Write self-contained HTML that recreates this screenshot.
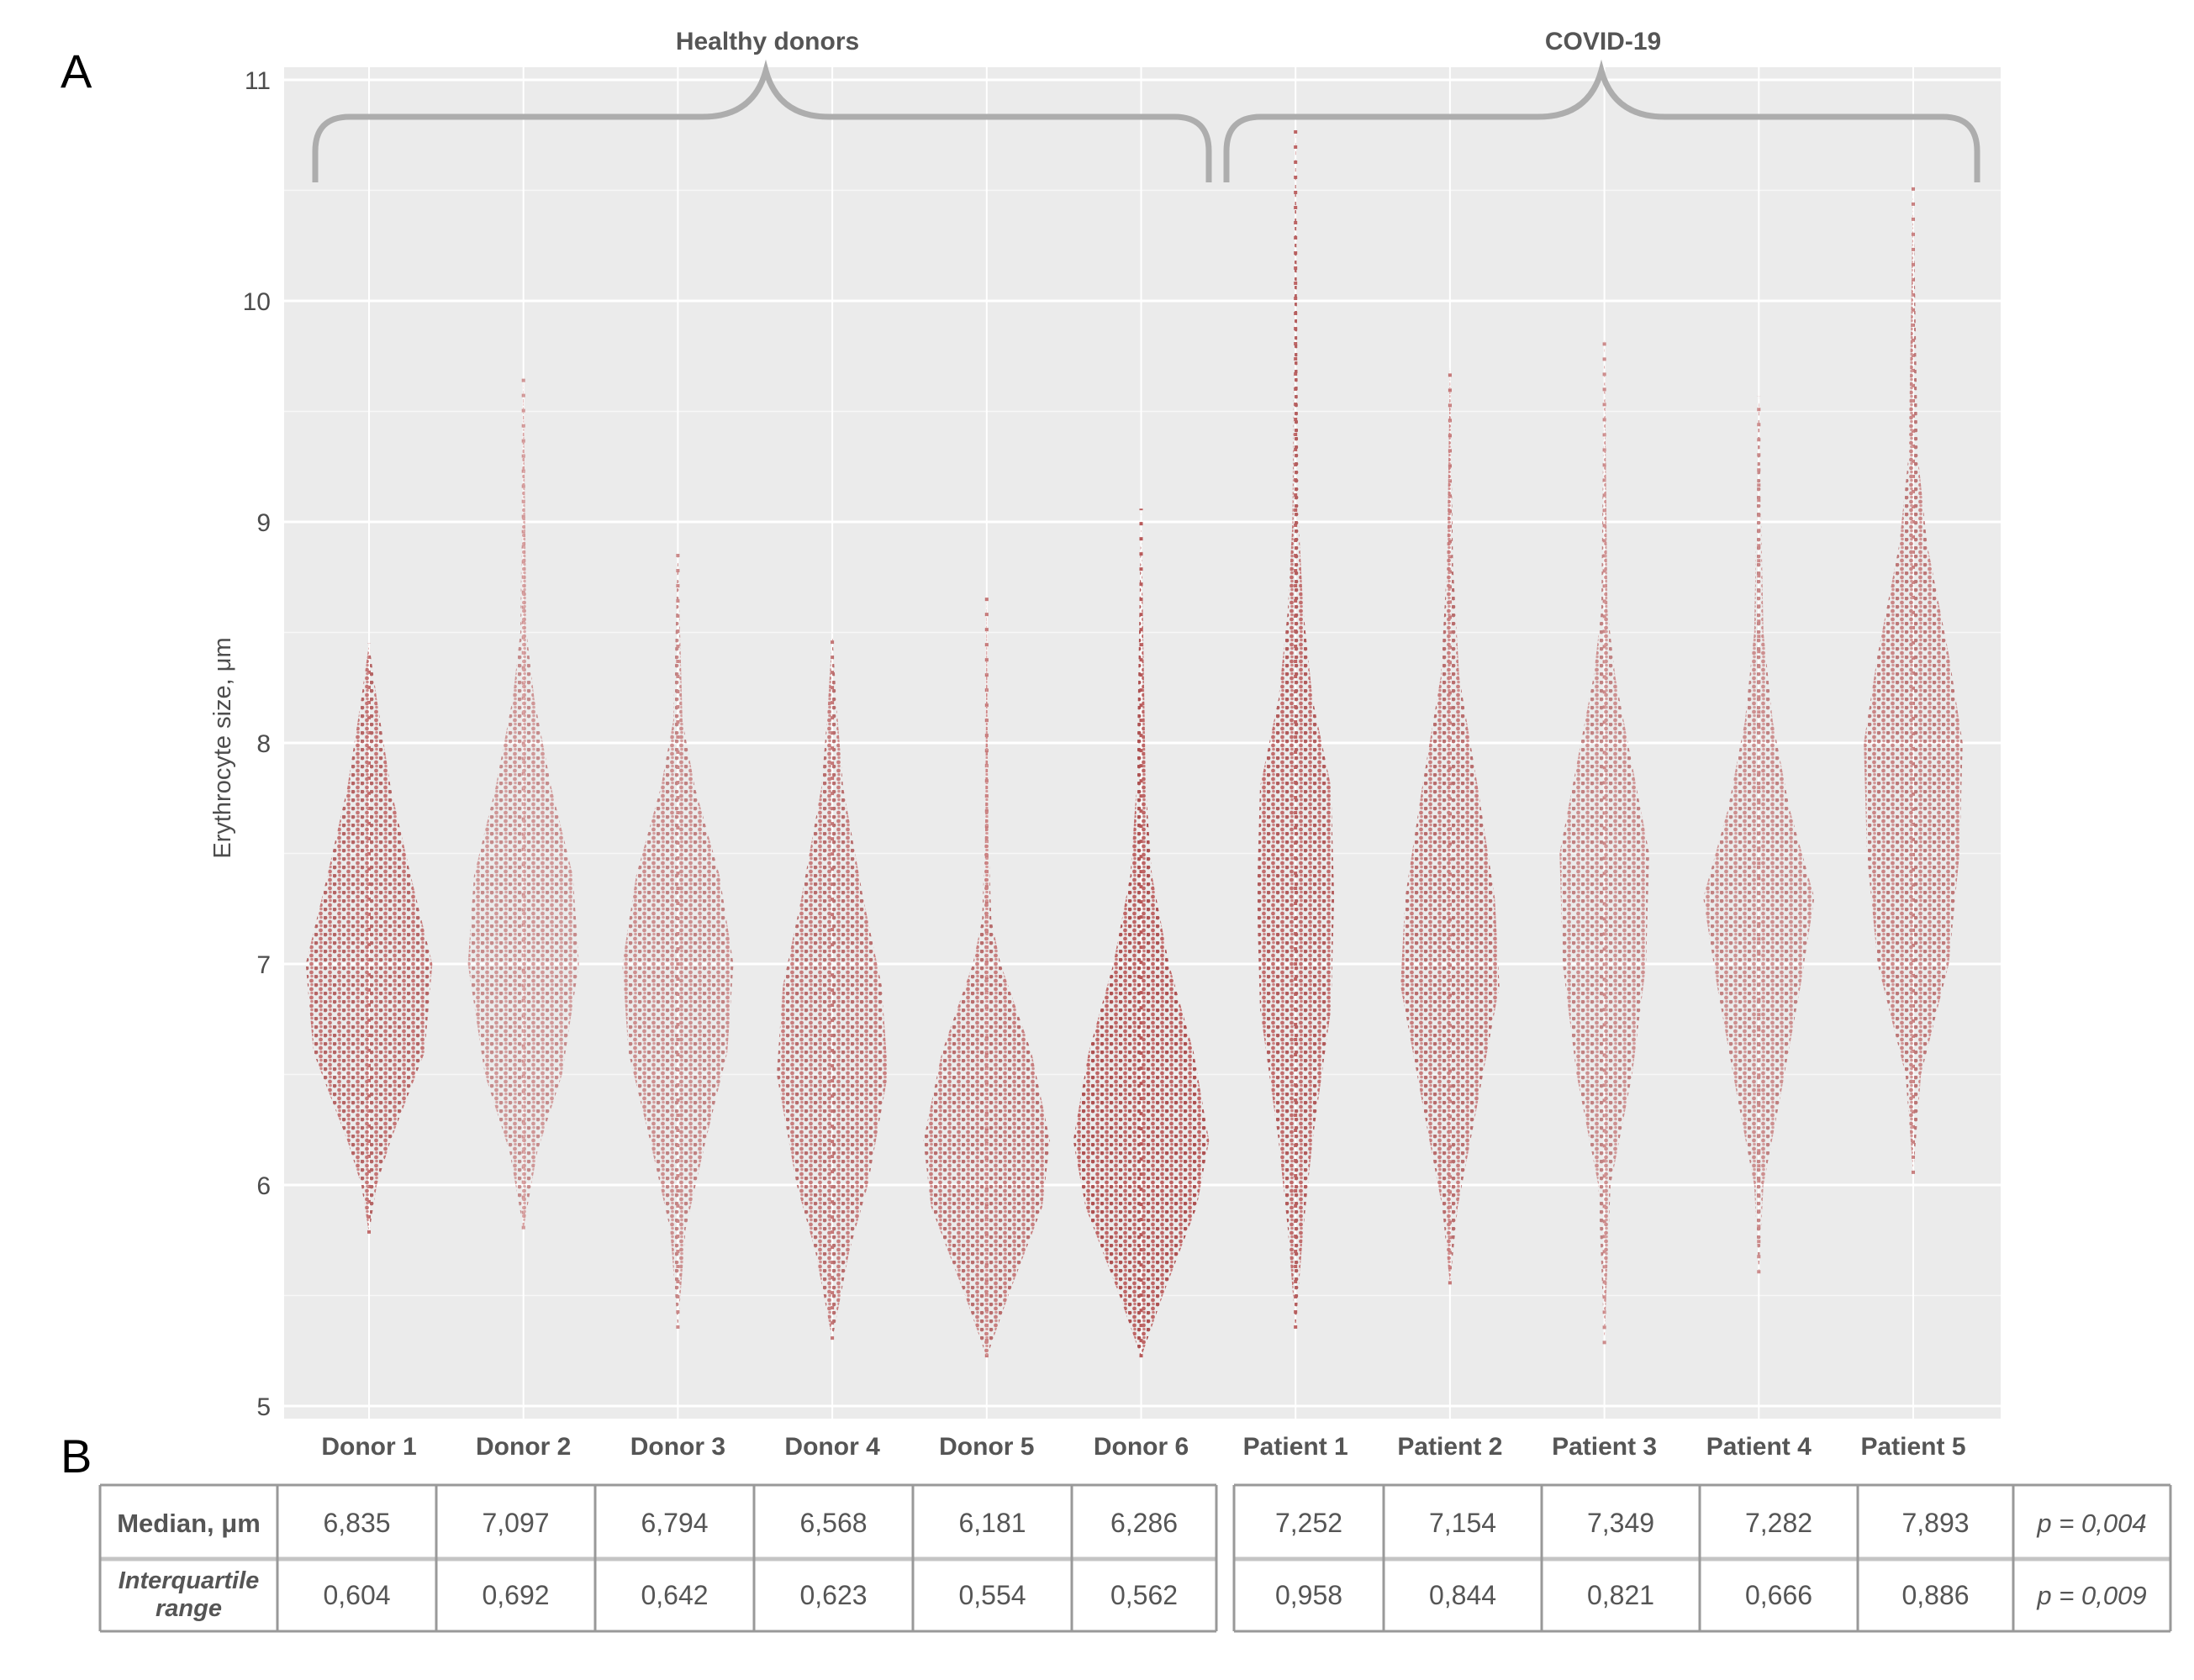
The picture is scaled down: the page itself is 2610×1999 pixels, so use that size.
<!DOCTYPE html>
<html><head><meta charset="utf-8"><title>Erythrocyte size</title>
<style>
html,body{margin:0;padding:0;background:#fff;}
svg{display:block;font-family:"Liberation Sans",Arial,sans-serif;}
</style></head>
<body>
<svg id="chart" width="2610" height="1999" viewBox="0 0 2610 1999" xmlns="http://www.w3.org/2000/svg">
<defs>
<pattern id="dots" patternUnits="userSpaceOnUse" width="11" height="10">
<circle cx="2" cy="2" r="2.4" fill="#9e2b2b"/>
<circle cx="7.5" cy="7" r="2.4" fill="#b44444"/>
<circle cx="8" cy="1.5" r="1.8" fill="#c06060"/>
</pattern>
</defs>
<rect x="0" y="0" width="2610" height="1999" fill="#fff"/>
<rect x="338" y="80" width="2042" height="1608" fill="#ebebeb"/>
<g id="grid"></g>
<g id="marks"></g>
<g id="axes"></g>

<text x="72" y="104" font-size="56" fill="#000">A</text>
<text x="72" y="1752" font-size="56" fill="#000">B</text>
<text transform="translate(274,890) rotate(-90)" text-anchor="middle" font-size="29" fill="#4d4d4d">Erythrocyte size, μm</text>

<path d="M375,217 V180 Q375,139 416,139 H836 Q896,139 911,84 Q926,139 986,139 H1397 Q1438,139 1438,180 V217" fill="none" stroke="#adadad" stroke-width="7"/>
<text x="913" y="59" text-anchor="middle" font-size="30" font-weight="bold" fill="#555">Healthy donors</text>
<path d="M1459,217 V180 Q1459,139 1500,139 H1830 Q1890,139 1905,84 Q1920,139 1980,139 H2311 Q2352,139 2352,180 V217" fill="none" stroke="#adadad" stroke-width="7"/>
<text x="1907" y="59" text-anchor="middle" font-size="30" font-weight="bold" fill="#555">COVID-19</text>

<g id="table"></g>
</svg>
<script>
// ---- data ----
const categories = ["Donor 1","Donor 2","Donor 3","Donor 4","Donor 5","Donor 6","Patient 1","Patient 2","Patient 3","Patient 4","Patient 5"];
const yTicks = [5,6,7,8,9,10,11];
// density profile levels (μm) and half-widths (fraction of category spacing)
const profY = [
 [5.78,6.0,6.2,6.6,7.0,7.4,7.8,8.2,8.45],
 [5.8,6.15,6.5,7.0,7.4,7.8,8.2,8.5,9.65],
 [5.35,5.8,6.2,6.6,7.0,7.4,7.8,8.1,8.87],
 [5.3,5.7,6.0,6.5,6.9,7.3,7.8,8.15,8.5],
 [5.22,5.5,5.9,6.2,6.6,7.0,7.2,7.6,8.68],
 [5.22,5.5,5.9,6.2,6.6,7.0,7.4,7.8,9.06],
 [5.35,5.8,6.2,6.8,7.3,7.8,8.2,8.6,9.0,10.78],
 [5.55,5.9,6.3,6.9,7.3,7.8,8.3,8.8,9.7],
 [5.28,6.0,6.5,7.0,7.5,7.9,8.3,8.6,9.85],
 [5.6,6.0,6.4,6.9,7.3,7.7,8.1,8.5,9.57],
 [6.05,6.5,7.0,7.5,8.0,8.4,8.9,9.3,10.53]
];
const profW = [
 [0,0.05,0.14,0.36,0.41,0.27,0.14,0.05,0],
 [0,0.09,0.25,0.36,0.32,0.18,0.07,0.02,0],
 [0,0.05,0.18,0.32,0.36,0.27,0.11,0.03,0],
 [0,0.11,0.23,0.36,0.32,0.2,0.07,0.03,0],
 [0,0.14,0.36,0.41,0.29,0.09,0.03,0.01,0],
 [0,0.14,0.36,0.44,0.34,0.18,0.07,0.03,0],
 [0,0.05,0.11,0.23,0.25,0.23,0.11,0.05,0.02,0],
 [0,0.05,0.16,0.32,0.29,0.18,0.06,0.02,0],
 [0,0.04,0.18,0.27,0.29,0.18,0.07,0.02,0],
 [0,0.03,0.14,0.27,0.36,0.2,0.09,0.03,0],
 [0,0.05,0.23,0.3,0.32,0.23,0.09,0.03,0]
];
const density = [0.7,0.5,0.55,0.65,0.65,0.8,0.75,0.65,0.55,0.55,0.6];
const medians = ["6,835","7,097","6,794","6,568","6,181","6,286","7,252","7,154","7,349","7,282","7,893"];
const iqrs = ["0,604","0,692","0,642","0,623","0,554","0,562","0,958","0,844","0,821","0,666","0,886"];
const pValues = ["p = 0,004","p = 0,009"];

// ---- scales ----
const NS="http://www.w3.org/2000/svg";
const X0=439, DX=183.7, PL=338, PR=2380, PT=80, PB=1688;
function xScale(i){return X0+i*DX;}
function yScale(v){return 95+(11-v)*263;}
function mk(tag,attrs,parent){const e=document.createElementNS(NS,tag);for(const k in attrs)e.setAttribute(k,attrs[k]);parent.appendChild(e);return e;}

const grid=document.getElementById('grid');
for(let v=5; v<=11; v+=0.5){
  const l=mk('line',{x1:PL,x2:PR,y1:yScale(v),y2:yScale(v),stroke:'#fff','stroke-width':Number.isInteger(v)?3:1.5,opacity:Number.isInteger(v)?1:0.6},grid);
  
  
}
categories.forEach((c,i)=>{
  const l=mk('line',{x1:xScale(i),x2:xScale(i),y1:PT,y2:PB,stroke:'#fff','stroke-width':2},grid);
  
  
});

const axes=document.getElementById('axes');
yTicks.forEach(v=>{
  const t=mk('text',{x:322,y:yScale(v)+11,'text-anchor':'end','font-size':30,fill:'#4d4d4d'},axes);
  t.textContent=v;
  
  
});
categories.forEach((c,i)=>{
  const t=mk('text',{x:xScale(i),y:1741-10,'text-anchor':'middle','font-size':30,'font-weight':'bold',fill:'#555'},axes);
  t.textContent=c;
  
  
});

const marks=document.getElementById('marks');
categories.forEach((c,i)=>{
  const g=mk('g',{opacity:density[i]},marks);
  
  
  const ys=profY[i], ws=profW[i], cx=xScale(i);
  const tl=mk('line',{x1:cx,x2:cx,y1:yScale(ys[0]),y2:yScale(ys[ys.length-1]),stroke:'#a33','stroke-width':4,'stroke-dasharray':'4 14'},g);
  
  
  let right=[],left=[];
  for(let k=0;k<ys.length;k++){
    right.push([cx+ws[k]*DX, yScale(ys[k])]);
    left.push([cx-ws[k]*DX, yScale(ys[k])]);
  }
  const pts=right.concat(left.reverse());
  const p=mk('polygon',{points:pts.map(q=>q[0].toFixed(1)+','+q[1].toFixed(1)).join(' '),fill:'url(#dots)','stroke-linejoin':'round'},g);
  
  
});

// ---- table ----
const tbl=document.getElementById('table');
const T1=[119,330,519,708,897,1086,1275,1447], T2=[1468,1646,1834,2022,2210,2395,2582];
const rowY=[1767,1855,1941];
function hline(x1,x2,y,w,col){const l=mk('line',{x1:x1,x2:x2,y1:y,y2:y,stroke:col,'stroke-width':w},tbl);}
function vline(x,w){const l=mk('line',{x1:x,x2:x,y1:rowY[0],y2:rowY[2],stroke:'#999','stroke-width':w},tbl);}
[[T1[0],T1[7]],[T2[0],T2[6]]].forEach(([a,b])=>{hline(a,b,rowY[0],3,'#999');hline(a,b,rowY[1],5,'#c4c4c4');hline(a,b,rowY[2],3,'#999');});
T1.forEach(x=>vline(x,3));T2.forEach(x=>vline(x,3));
function cell(txt,x,y,opts){const t=mk('text',Object.assign({x:x,y:y,'text-anchor':'middle','font-size':31,'font-weight':'bold',fill:'#555'},opts||{}),tbl);t.textContent=txt;return t;}
cell('Median, μm',(T1[0]+T1[1])/2,1823);
cell('Interquartile',(T1[0]+T1[1])/2,1890,{'font-style':'italic','font-size':29});
cell('range',(T1[0]+T1[1])/2,1923,{'font-style':'italic','font-size':29});
const colsX=[];
for(let k=0;k<6;k++)colsX.push((T1[k+1]+T1[k+2])/2);
for(let k=0;k<5;k++)colsX.push((T2[k]+T2[k+1])/2);
medians.forEach((m,i)=>cell(m,colsX[i],1823,{'font-weight':'normal','font-size':32}));
iqrs.forEach((m,i)=>cell(m,colsX[i],1909,{'font-weight':'normal','font-size':32}));
cell(pValues[0],(T2[5]+T2[6])/2,1823,{'font-style':'italic','font-weight':'normal'});
cell(pValues[1],(T2[5]+T2[6])/2,1909,{'font-style':'italic','font-weight':'normal'});
</script>
</body></html>
